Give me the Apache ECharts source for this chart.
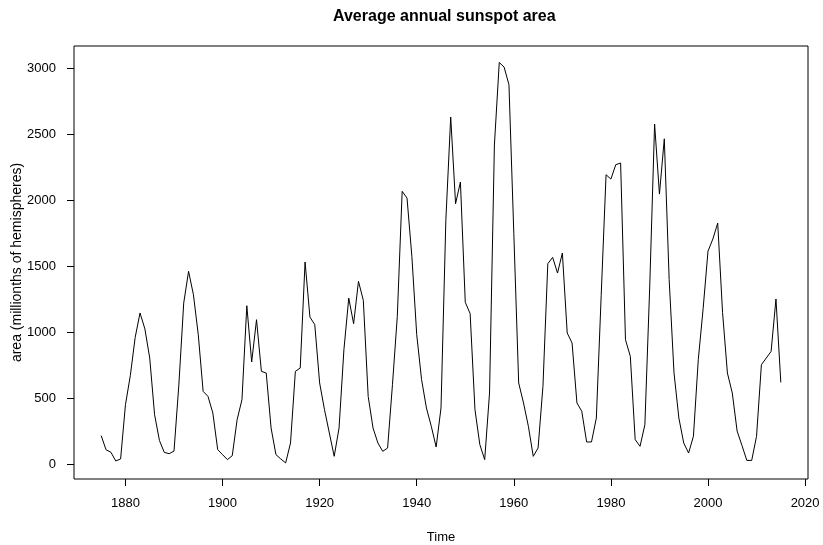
<!DOCTYPE html>
<html>
<head>
<meta charset="utf-8">
<script src="https://cdn.jsdelivr.net/npm/echarts@6/dist/echarts.min.js"></script>
<style>
html,body{margin:0;padding:0;background:#fff;}
#chart{width:823px;height:545px;}
</style>
</head>
<body>
<div id="chart"></div>
<script>
var years = [
1875,1876,1877,1878,1879,1880,1881,1882,1883,1884,1885,1886,1887,1888,1889,
1890,1891,1892,1893,1894,1895,1896,1897,1898,1899,1900,1901,1902,1903,1904,
1905,1906,1907,1908,1909,1910,1911,1912,1913,1914,1915,1916,1917,1918,1919,
1920,1921,1922,1923,1924,1925,1926,1927,1928,1929,1930,1931,1932,1933,1934,
1935,1936,1937,1938,1939,1940,1941,1942,1943,1944,1945,1946,1947,1948,1949,
1950,1951,1952,1953,1954,1955,1956,1957,1958,1959,1960,1961,1962,1963,1964,
1965,1966,1967,1968,1969,1970,1971,1972,1973,1974,1975,1976,1977,1978,1979,
1980,1981,1982,1983,1984,1985,1986,1987,1988,1989,1990,1991,1992,1993,1994,
1995,1996,1997,1998,1999,2000,2001,2002,2003,2004,2005,2006,2007,2008,2009,
2010,2011,2012,2013,2014,2015
];
var area = [
215,108,89,23,38,450,670,960,1146,1025,804,374,178,88,78,
98,600,1221,1462,1285,981,551,513,387,109,71,33,63,336,488,
1201,774,1095,703,690,273,71,38,8,159,703,728,1533,1115,1057,
615,412,235,58,273,867,1259,1065,1386,1242,513,273,159,96,121,
602,1120,2069,2018,1576,981,640,425,286,129,425,1850,2633,1975,2140,
1227,1141,412,147,33,539,2420,3047,3012,2878,1750,615,463,286,58,
121,589,1520,1568,1449,1601,994,918,463,400,167,167,349,1280,2195,
2162,2271,2284,943,817,185,134,298,1350,2580,2048,2468,1399,690,349,
159,83,210,792,1180,1615,1707,1828,1150,690,539,250,140,27,27,
210,753,804,854,1252,619
];
var xTicks = [1880,1900,1920,1940,1960,1980,2000,2020];
var yTicks = [0,500,1000,1500,2000,2500,3000];

var pts = years.map(function(y,i){ return [y, area[i]]; });
var font = 'Liberation Sans, Arial, Helvetica, sans-serif';
var plain = function(v){ return String(v); };

var chart = echarts.init(document.getElementById('chart'), null, {renderer:'canvas'});
chart.setOption({
  animation: false,
  backgroundColor: '#fff',
  title: {
    text: 'Average annual sunspot area',
    left: 328, top: 4,
    textStyle: {fontFamily: font, fontSize: 16, fontWeight: 'bold', color: '#000'}
  },
  grid: {
    left: 74, top: 46, width: 734, height: 433,
    containLabel: false, outerBoundsMode: 'none',
    show: true, borderColor: '#000', borderWidth: 1, backgroundColor: 'transparent'
  },
  xAxis: {
    type: 'value', min: 1869.4, max: 2020.6,
    name: 'Time', nameLocation: 'middle', nameGap: 52, nameMoveOverlap: false,
    nameTextStyle: {fontFamily: font, fontSize: 13, color: '#000'},
    axisLine: {show: false, onZero: false},
    axisTick: {show: true, length: 7, customValues: xTicks, lineStyle: {color: '#000', width: 1}},
    axisLabel: {customValues: xTicks, formatter: plain, fontFamily: font, fontSize: 13, color: '#000', margin: 18},
    splitLine: {show: false}
  },
  yAxis: {
    type: 'value', min: -114, max: 3172,
    name: 'area (millionths of hemispheres)', nameLocation: 'middle', nameGap: 50, nameMoveOverlap: false,
    nameTextStyle: {fontFamily: font, fontSize: 14, color: '#000'},
    axisLine: {show: false, onZero: false},
    axisTick: {show: true, length: 7, customValues: yTicks, lineStyle: {color: '#000', width: 1}},
    axisLabel: {customValues: yTicks, formatter: plain, fontFamily: font, fontSize: 13, color: '#000', margin: 18},
    splitLine: {show: false}
  },
  series: [{
    type: 'line',
    data: pts,
    showSymbol: false,
    symbol: 'none',
    lineStyle: {color: '#000', width: 1},
    silent: true
  }]
});
</script>
</body>
</html>
